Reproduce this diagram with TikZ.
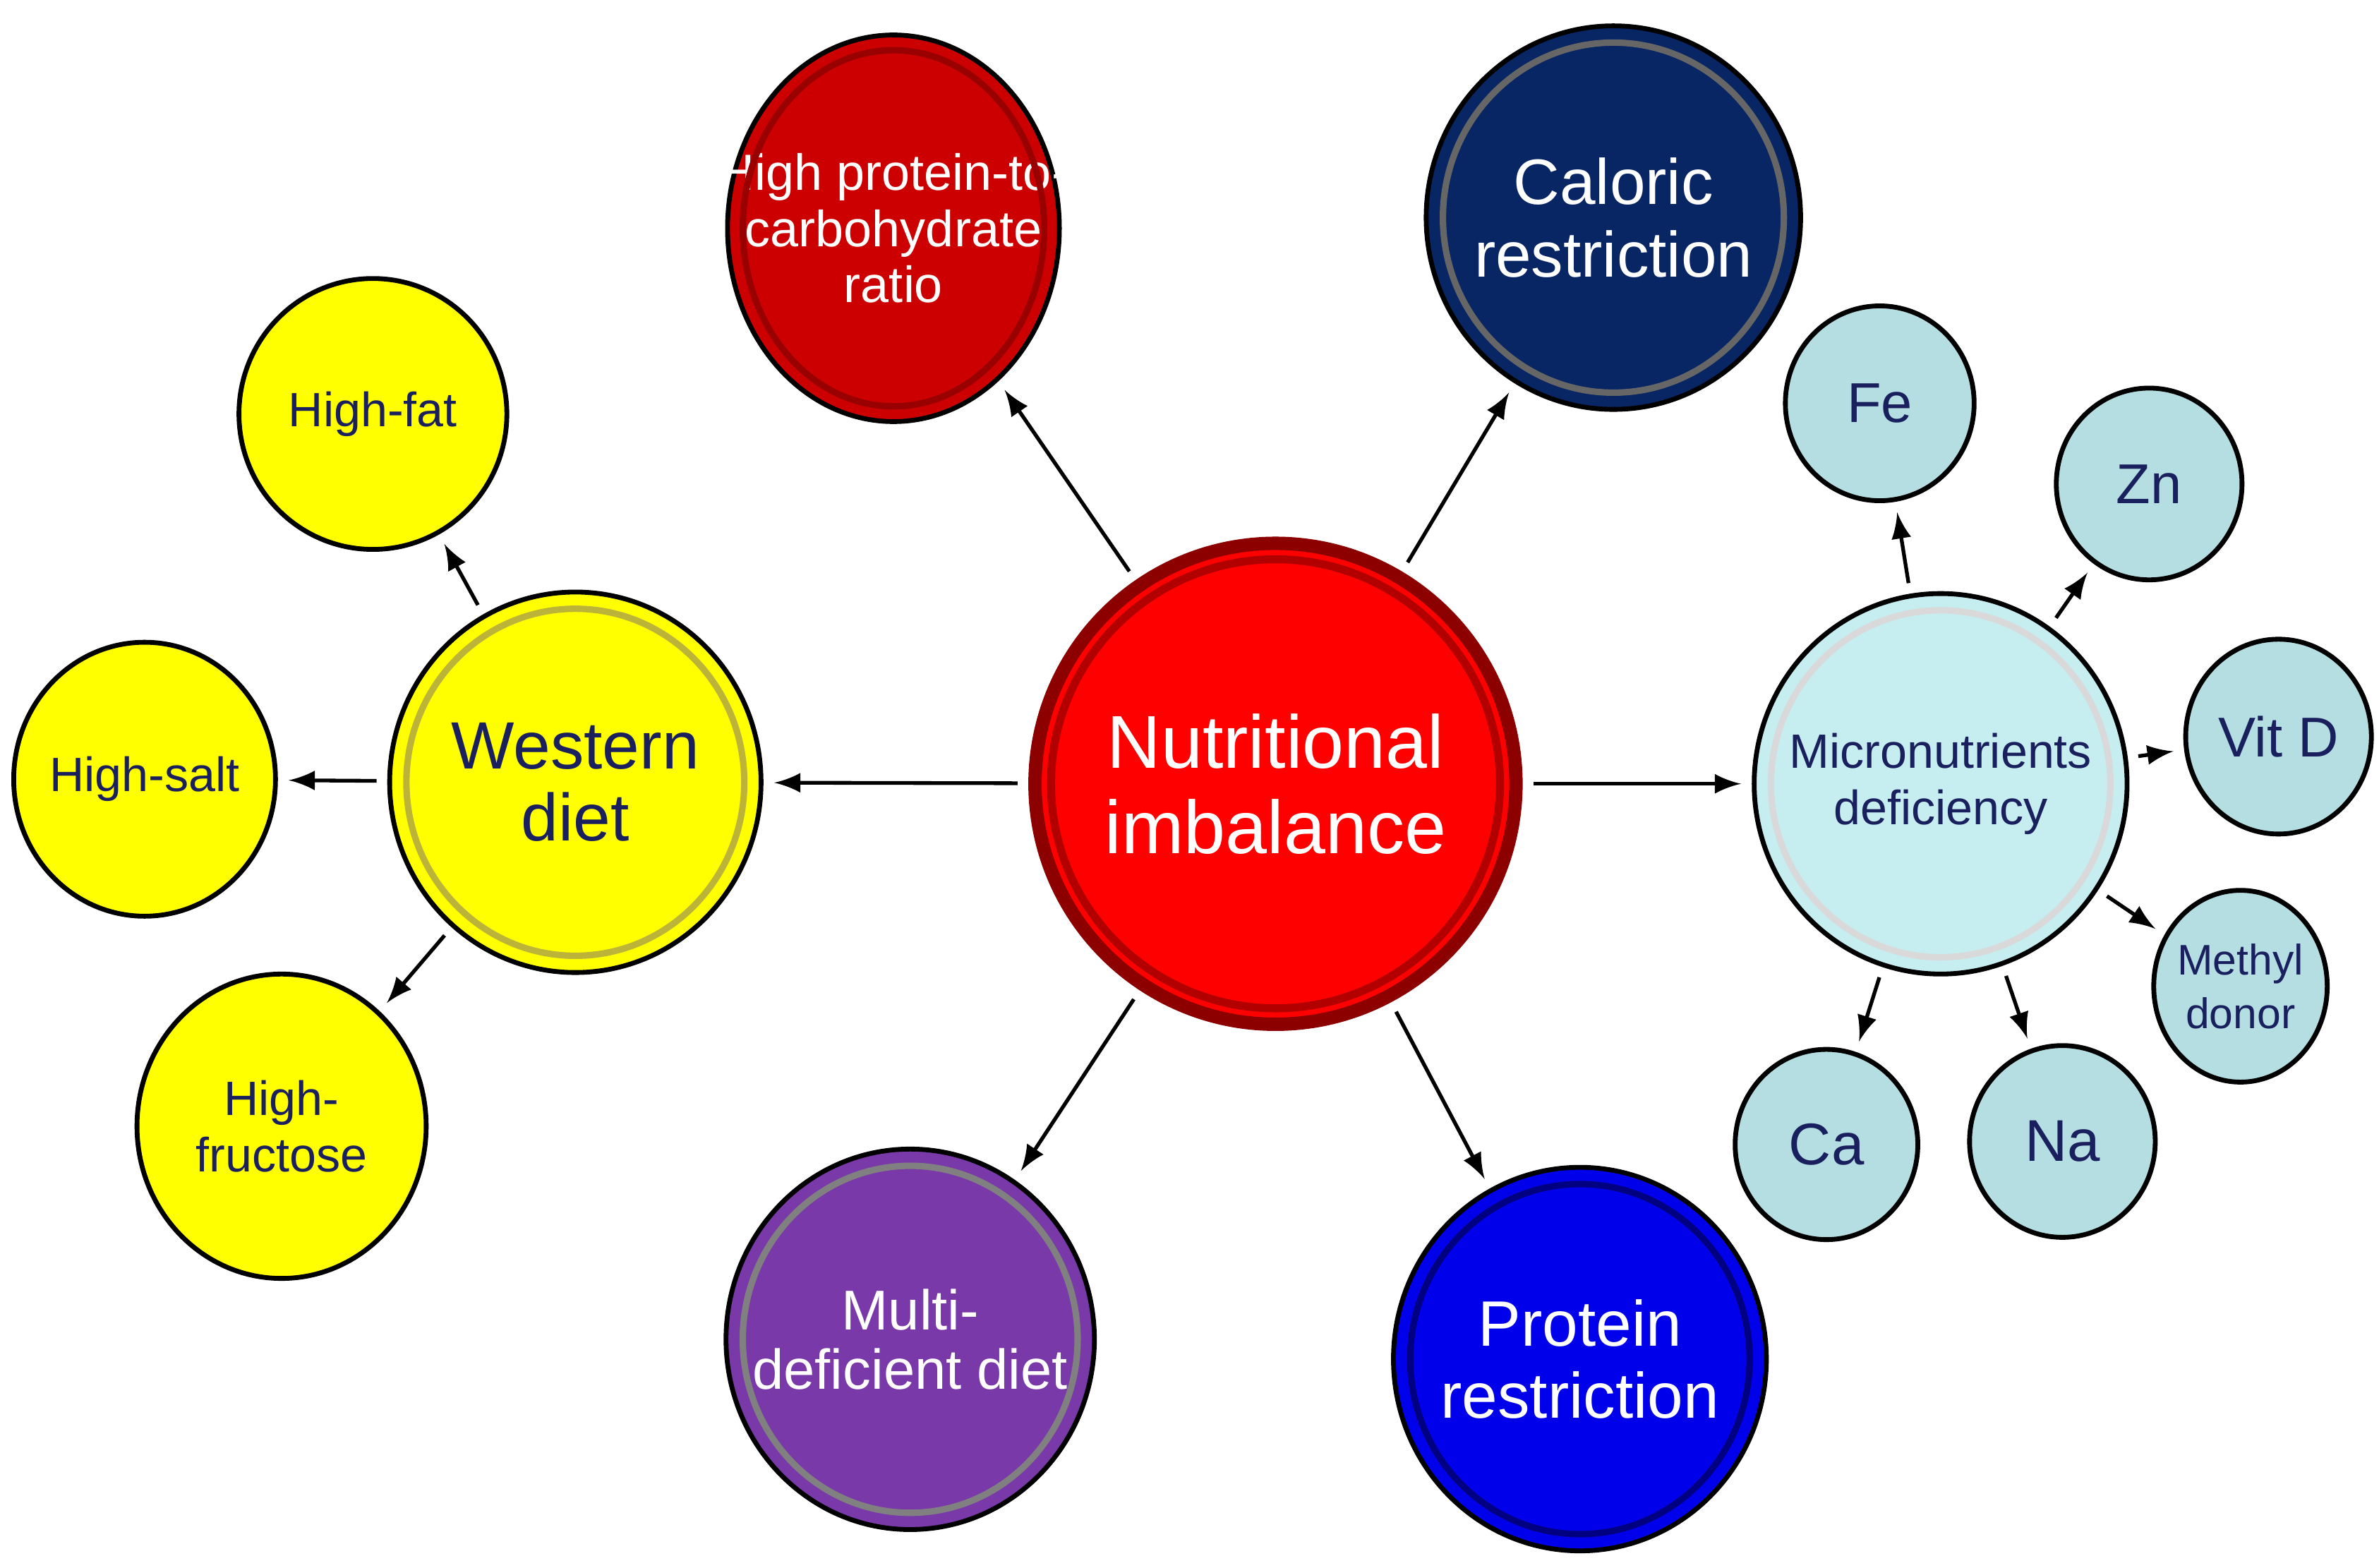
\documentclass[tikz,border=0pt]{standalone}
\usepackage{fontspec}
\setmainfont{Liberation Sans}
\usetikzlibrary{shapes.geometric,arrows}
\definecolor{navytxt}{HTML}{1A1F5E}
\definecolor{ybub}{HTML}{FFFF00}
\definecolor{mbub}{HTML}{C6EDF0}
\definecolor{sbub}{HTML}{B4DEE1}
\begin{document}
\begin{tikzpicture}[>=latex]
  \tikzstyle{bub} = [ellipse, draw=black, line width=0.9pt, inner sep=0pt]
  \tikzstyle{lab} = [align=center, inner sep=0pt]
  \tikzstyle{ring} = [ellipse, draw, line width=1.2pt, inner sep=0pt]
  \tikzstyle{conn} = [->, line width=0.7pt, shorten <=2pt, shorten >=2pt]
  \useasboundingbox (0,0) rectangle (15.63,10.30);

  \node[bub, fill=red, draw=red!55!black, line width=2.5pt, minimum width=3.16cm, minimum height=3.16cm,
        label={[lab, text=white, font=\fontsize{14}{16}\selectfont]center:{Nutritional\\imbalance}}] (ni) at (8.38,5.15) {};

  \node[bub, fill=ybub, minimum width=2.44cm, minimum height=2.50cm,
        label={[lab, text=navytxt, font=\fontsize{12.5}{13.5}\selectfont]center:{Western\\diet}}] (wd) at (3.78,5.16) {};
  \node[bub, fill=ybub, minimum width=1.76cm, minimum height=1.78cm,
        label={[lab, text=navytxt, font=\fontsize{9}{10}\selectfont]center:{High-fat}}] (hf) at (2.45,7.58) {};
  \node[bub, fill=ybub, minimum width=1.72cm, minimum height=1.80cm,
        label={[lab, text=navytxt, font=\fontsize{9}{10}\selectfont]center:{High-salt}}] (hs) at (0.95,5.18) {};
  \node[bub, fill=ybub, minimum width=1.90cm, minimum height=2.00cm,
        label={[lab, text=navytxt, font=\fontsize{9}{10.5}\selectfont]center:{High-\\fructose}}] (hfr) at (1.85,2.90) {};

  \node[bub, fill=red!80!black, minimum width=2.18cm, minimum height=2.54cm,
        label={[lab, text=white, font=\fontsize{9.5}{10.5}\selectfont]center:{High protein-to-\\carbohydrate\\ratio}}] (hp) at (5.87,8.80) {};
  \node[bub, fill={rgb,255:red,8;green,38;blue,100}, minimum width=2.46cm, minimum height=2.52cm,
        label={[lab, text=white, font=\fontsize{12}{13.5}\selectfont]center:{Caloric\\restriction}}] (cr) at (10.60,8.87) {};
  \node[bub, fill={rgb,255:red,122;green,57;blue,168}, minimum width=2.42cm, minimum height=2.50cm,
        label={[lab, text=white, font=\fontsize{10.5}{11}\selectfont]center:{Multi-\\deficient diet}}] (mdd) at (5.98,1.50) {};
  \node[bub, fill={rgb,255:red,0;green,0;blue,235}, minimum width=2.45cm, minimum height=2.52cm,
        label={[lab, text=white, font=\fontsize{12}{13.5}\selectfont]center:{Protein\\restriction}}] (pr) at (10.38,1.37) {};

  \node[bub, fill=mbub, minimum width=2.45cm, minimum height=2.50cm,
        label={[lab, text=navytxt, font=\fontsize{9}{10.5}\selectfont]center:{Micronutrients\\deficiency}}] (mn) at (12.75,5.15) {};
  \node[bub, fill=sbub, minimum width=1.24cm, minimum height=1.28cm,
        label={[lab, text=navytxt, font=\fontsize{10.5}{12}\selectfont]center:{Fe}}] (fe) at (12.35,7.65) {};
  \node[bub, fill=sbub, minimum width=1.22cm, minimum height=1.26cm,
        label={[lab, text=navytxt, font=\fontsize{10.5}{12}\selectfont]center:{Zn}}] (zn) at (14.12,7.12) {};
  \node[bub, fill=sbub, minimum width=1.22cm, minimum height=1.28cm,
        label={[lab, text=navytxt, font=\fontsize{10.5}{12}\selectfont]center:{Vit D}}] (vd) at (14.97,5.46) {};
  \node[bub, fill=sbub, minimum width=1.14cm, minimum height=1.26cm,
        label={[lab, text=navytxt, font=\fontsize{8}{10}\selectfont]center:{Methyl\\donor}}] (md) at (14.72,3.82) {};
  \node[bub, fill=sbub, minimum width=1.20cm, minimum height=1.25cm,
        label={[lab, text=navytxt, font=\fontsize{11}{12}\selectfont]center:{Ca}}] (ca) at (12.00,2.78) {};
  \node[bub, fill=sbub, minimum width=1.22cm, minimum height=1.26cm,
        label={[lab, text=navytxt, font=\fontsize{11}{12}\selectfont]center:{Na}}] (na) at (13.55,2.80) {};

  % inner rings of the big bubbles
  \begin{scope}[on background layer/.style={}]
  \foreach \n/\w/\h/\c in {wd/2.22/2.28/yellow!70!black, hp/1.98/2.34/red!60!black, cr/2.24/2.30/black!60,
                          mdd/2.20/2.28/black!50, pr/2.23/2.30/blue!50!black, mn/2.23/2.28/white!70!gray}
    \node[ring, draw=\c, minimum width=\w cm, minimum height=\h cm] at (\n) {};
  \node[ring, draw=red!70!black, line width=1.5pt, minimum width=2.95cm, minimum height=2.95cm] at (ni) {};
  \end{scope}

  \draw[conn] (ni) -- (wd);
  \draw[conn] (ni) -- (hp);
  \draw[conn] (ni) -- (cr);
  \draw[conn] (ni) -- (mdd);
  \draw[conn] (ni) -- (pr);
  \draw[conn] (ni) -- (mn);
  \draw[conn] (wd) -- (hf);
  \draw[conn] (wd) -- (hs);
  \draw[conn] (wd) -- (hfr);
  \draw[conn] (mn) -- (fe);
  \draw[conn] (mn) -- (zn);
  \draw[conn] (mn) -- (vd);
  \draw[conn] (mn) -- (md);
  \draw[conn] (mn) -- (ca);
  \draw[conn] (mn) -- (na);
\end{tikzpicture}
\end{document}
